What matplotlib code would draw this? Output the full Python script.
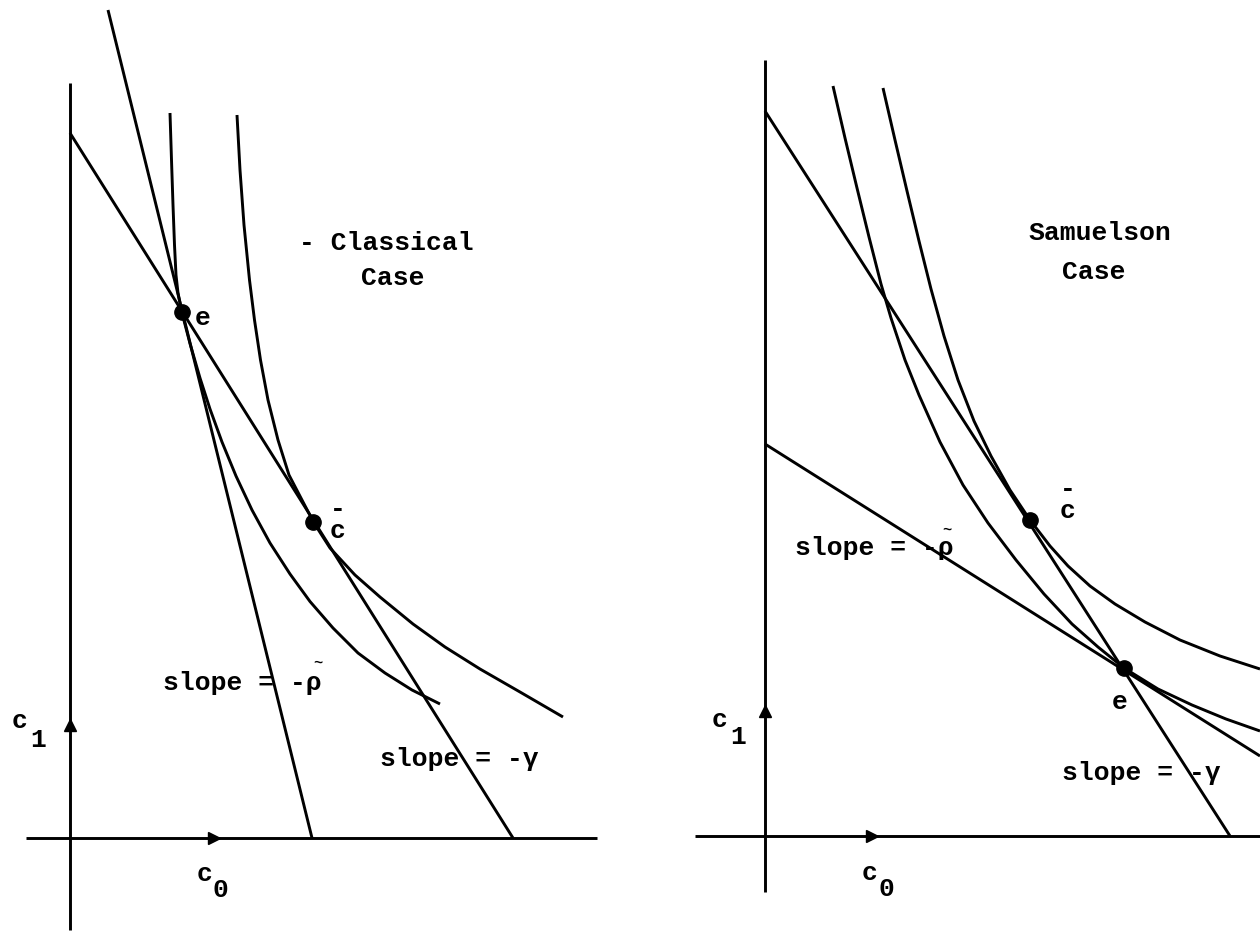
import matplotlib
matplotlib.use("Agg")
import matplotlib.pyplot as plt

# ---------------- Left panel: Classical case (units: c0, c1) ----------------
L_axis_x = [-0.44, 5.27]          # horizontal axis extent (c1 = 0)
L_axis_y = [-0.92, 7.55]          # vertical axis extent (c0 = 0)
L_rho_line_c0 = [0.38, 2.42]      # steep line, slope = -rho~
L_rho_line_c1 = [8.28, 0.00]
L_gam_line_c0 = [0.00, 4.43]      # budget line, slope = -gamma
L_gam_line_c1 = [7.05, 0.00]
L_inner_c0 = [1.00, 1.015, 1.03, 1.045, 1.06, 1.08, 1.12, 1.20, 1.30, 1.40, 1.52,
              1.66, 1.82, 2.00, 2.20, 2.40, 2.63, 2.88, 3.15, 3.42, 3.70]
L_inner_c1 = [7.25, 6.78, 6.33, 5.93, 5.63, 5.45, 5.25, 4.945, 4.60, 4.29, 3.96,
              3.62, 3.28, 2.95, 2.64, 2.365, 2.10, 1.85, 1.65, 1.48, 1.34]
L_outer_c0 = [1.67, 1.70, 1.74, 1.795, 1.845, 1.905, 1.98, 2.08, 2.19, 2.32, 2.44,
              2.60, 2.85, 3.10, 3.43, 3.75, 4.10, 4.50, 4.93]
L_outer_c1 = [7.23, 6.68, 6.13, 5.58, 5.18, 4.78, 4.38, 3.98, 3.63, 3.38, 3.15,
              2.90, 2.63, 2.41, 2.14, 1.91, 1.69, 1.46, 1.21]
L_points_c0 = [1.12, 2.43]        # e, c-bar
L_points_c1 = [5.26, 3.16]

# ---------------- Right panel: Samuelson case ----------------
R_axis_x = [-0.70, 4.95]
R_axis_y = [-0.56, 7.76]
R_gam_line_c0 = [0.00, 4.65]      # slope = -gamma
R_gam_line_c1 = [7.25, 0.00]
R_rho_line_c0 = [0.00, 4.95]      # slope = -rho~
R_rho_line_c1 = [3.92, 0.80]
R_inner_c0 = [0.68, 0.80, 0.92, 1.04, 1.16, 1.26, 1.40, 1.54, 1.75, 1.98, 2.23,
              2.51, 2.79, 3.07, 3.33, 3.59, 3.93, 4.27, 4.61, 4.95]
R_inner_c1 = [7.50, 6.98, 6.48, 5.99, 5.52, 5.18, 4.76, 4.41, 3.94, 3.51, 3.13,
              2.76, 2.42, 2.12, 1.89, 1.68, 1.47, 1.31, 1.17, 1.05]
R_outer_c0 = [1.18, 1.30, 1.42, 1.54, 1.66, 1.79, 1.93, 2.09, 2.26, 2.45, 2.65,
              2.85, 3.03, 3.25, 3.50, 3.80, 4.15, 4.55, 4.95]
R_outer_c1 = [7.48, 6.96, 6.45, 5.95, 5.47, 5.00, 4.56, 4.15, 3.80, 3.46, 3.16,
              2.90, 2.70, 2.50, 2.32, 2.14, 1.96, 1.80, 1.67]
R_points_c0 = [3.59, 2.65]        # e, c-bar
R_points_c1 = [1.68, 3.16]

TXT = dict(family=["Liberation Mono", "DejaVu Sans Mono"], fontsize=19,
           fontweight="bold", color="black", zorder=5)
LW = 2.1
INK = "black"

fig = plt.figure(figsize=(12.6, 9.33), dpi=100)
fig.patch.set_facecolor("white")
axL = fig.add_axes([0.0, 0.0, 0.5, 1.0])
axR = fig.add_axes([0.5, 0.0, 0.5, 1.0])
axL.set_xlim(-0.70, 5.60); axL.set_ylim(-0.95, 8.38)
axR.set_xlim(-1.35, 4.95); axR.set_ylim(-0.97, 8.36)
for ax in (axL, axR):
    ax.axis("off")


def draw_panel(ax, axis_x, axis_y, lines, curves, pts, arrow_y, arrow_x):
    ax.plot(axis_x, [0, 0], color=INK, lw=LW, solid_capstyle="butt")
    ax.plot([0, 0], axis_y, color=INK, lw=LW, solid_capstyle="butt")
    ax.plot([0], [arrow_y], marker="^", color=INK, ms=8, zorder=4)
    ax.plot([arrow_x], [0], marker=">", color=INK, ms=8, zorder=4)
    for cx, cy in lines:
        ax.plot(cx, cy, color=INK, lw=LW, solid_capstyle="butt")
    for cx, cy in curves:
        ax.plot(cx, cy, color=INK, lw=LW, solid_joinstyle="round",
                solid_capstyle="butt")
    ax.plot(pts[0], pts[1], "o", color=INK, ms=11, zorder=4)


draw_panel(axL, L_axis_x, L_axis_y,
           [(L_rho_line_c0, L_rho_line_c1), (L_gam_line_c0, L_gam_line_c1)],
           [(L_inner_c0, L_inner_c1), (L_outer_c0, L_outer_c1)],
           (L_points_c0, L_points_c1), 1.13, 1.44)
draw_panel(axR, R_axis_x, R_axis_y,
           [(R_gam_line_c0, R_gam_line_c1), (R_rho_line_c0, R_rho_line_c1)],
           [(R_inner_c0, R_inner_c1), (R_outer_c0, R_outer_c1)],
           (R_points_c0, R_points_c1), 1.25, 1.07)

TILDE = {**TXT, "fontsize": 11}

# ---------------- Labels, left ----------------
axL.text(2.29, 5.95, "- Classical", ha="left", va="center", **TXT)
axL.text(2.91, 5.60, "Case", ha="left", va="center", **TXT)
axL.text(1.25, 5.20, "e", ha="left", va="center", **TXT)
axL.text(2.68, 3.00, "-\nc", ha="center", va="baseline", linespacing=0.9,
         multialignment="center", **TXT)
axL.text(0.93, 1.55, "slope = -\u03c1", ha="left", va="center", **TXT)
axL.text(2.48, 1.71, "~", ha="center", va="baseline", **TILDE)
axL.text(3.10, 0.79, "slope = -\u03b3", ha="left", va="center", **TXT)
axL.text(-0.58, 1.17, "c", ha="left", va="center", **TXT)
axL.text(-0.40, 0.98, "1", ha="left", va="center", **TXT)
axL.text(1.27, -0.36, "c", ha="left", va="center", **TXT)
axL.text(1.43, -0.52, "0", ha="left", va="center", **TXT)

# ---------------- Labels, right ----------------
axR.text(2.63, 6.03, "Samuelson", ha="left", va="center", **TXT)
axR.text(2.97, 5.64, "Case", ha="left", va="center", **TXT)
axR.text(3.03, 3.18, "-\nc", ha="center", va="baseline", linespacing=0.9,
         multialignment="center", **TXT)
axR.text(3.47, 1.34, "e", ha="left", va="center", **TXT)
axR.text(0.30, 2.88, "slope = -\u03c1", ha="left", va="center", **TXT)
axR.text(1.82, 3.02, "~", ha="center", va="baseline", **TILDE)
axR.text(2.97, 0.63, "slope = -\u03b3", ha="left", va="center", **TXT)
axR.text(-0.53, 1.16, "c", ha="left", va="center", **TXT)
axR.text(-0.35, 0.99, "1", ha="left", va="center", **TXT)
axR.text(0.97, -0.37, "c", ha="left", va="center", **TXT)
axR.text(1.13, -0.53, "0", ha="left", va="center", **TXT)

fig.savefig("out.png", dpi=100, facecolor="white")
